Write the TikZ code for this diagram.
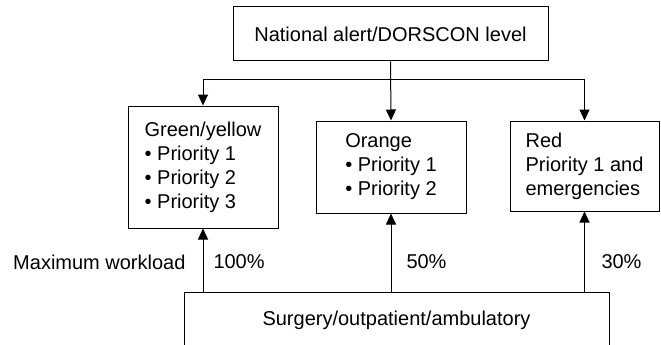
\documentclass[tikz,border=0pt]{standalone}
\usepackage{fontspec}
\setmainfont{Liberation Sans}
\usetikzlibrary{arrows.meta}

\begin{document}
\begin{tikzpicture}[x=1pt, y=-1pt, line width=1pt,
    font=\fontsize{20}{24}\selectfont,
    box/.style = {draw, rectangle, inner sep=0pt},
    level/.style = {box, align=left, anchor=center},
    arr/.style = {-{Triangle[length=11pt,width=10pt]}}]
    \useasboundingbox (0,0) rectangle (661,345);
    \node[box, minimum width=315, minimum height=54] (alert) at (390.5,34) {National alert/DORSCON level};
    \node[level, minimum width=150, minimum height=122] (green) at (203,167) {Green/yellow\\• Priority 1\\• Priority 2\\• Priority 3};
    \node[level, minimum width=150, minimum height=92] (orange) at (391,167) {Orange\\• Priority 1\\• Priority 2};
    \node[level, minimum width=149, minimum height=90] (red) at (584.5,166) {Red\\Priority 1 and\\emergencies};
    \node[box, minimum width=425, minimum height=56] (surg) at (396.5,320) {Surgery/outpatient/ambulatory};
    \coordinate (jl) at (203,79);
    \coordinate (jr) at (584.5,79);
    \draw (jl) -- (jr);
    \draw[arr] (alert.south) -- (orange.north);
    \draw[arr] (jl) -- (green.north);
    \draw[arr] (jr) -- (red.north);
    \draw[arr] (green.south |- surg.north) -- (green.south);
    \draw[arr] (orange.south |- surg.north) -- (orange.south);
    \draw[arr] (red.south |- surg.north) -- (red.south);
    \node[anchor=east, inner sep=3pt] (maxw) at (189,262) {Maximum workload};
    \node[anchor=west, inner sep=3pt] (full) at (210,262) {100\%};
    \node[anchor=west, inner sep=3pt] (half) at (403,262) {50\%};
    \node[anchor=west, inner sep=3pt] (third) at (598,262) {30\%};
\end{tikzpicture}
\end{document}
